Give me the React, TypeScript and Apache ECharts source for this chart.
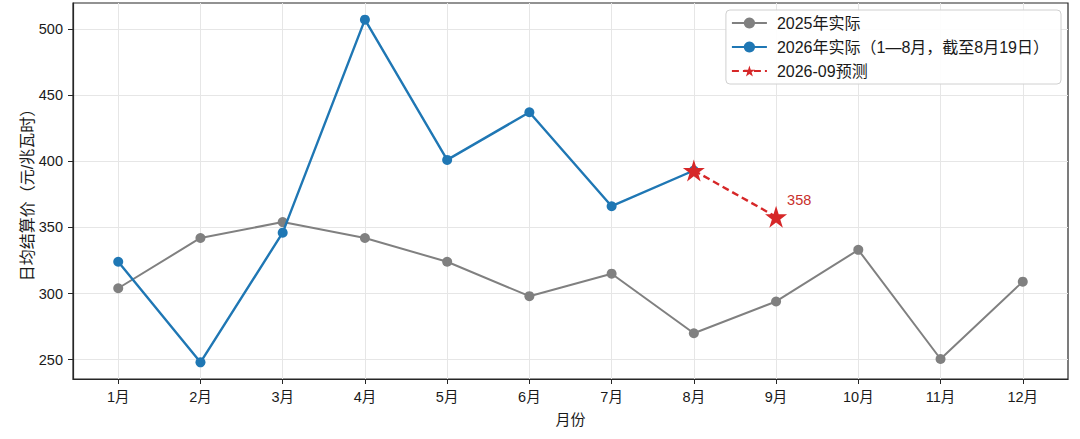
import React, { useEffect, useRef } from 'react';
import * as echarts from 'echarts';

const months = ['1月', '2月', '3月', '4月', '5月', '6月', '7月', '8月', '9月', '10月', '11月', '12月'];
const actual2025 = [304, 342, 354, 342, 324, 298, 315, 270, 294, 333, 250.5, 309];
const actual2026 = [324, 248, 346, 507, 401, 437, 366, 393];
const forecastMonths = ['8月', '9月'];
const forecastValues = [393, 358];
const forecastLabel = '358';
const yTicks = [250, 300, 350, 400, 450, 500];
const seriesNames = ['2025年实际', '2026年实际（1—8月，截至8月19日）', '2026-09预测'];

const FONT = '"Liberation Sans", "Noto Sans CJK SC", sans-serif';

function starPath(): string {
  const pts: string[] = [];
  for (let k = 0; k < 10; k++) {
    const r = k % 2 === 0 ? 1 : 0.381966;
    const a = -Math.PI / 2 + (k * Math.PI) / 5;
    pts.push(`${(r * Math.cos(a)).toFixed(4)} ${(r * Math.sin(a)).toFixed(4)}`);
  }
  return 'path://M' + pts.join(' L') + ' Z';
}

export default function App() {
  const ref = useRef<HTMLDivElement>(null);
  useEffect(() => {
    if (!ref.current) return;
    const chart = echarts.init(ref.current, null, { renderer: 'svg' });
    const star = starPath();
    const monthIdx = months.map((_, i) => i);
    chart.setOption({
      animation: false,
      backgroundColor: '#ffffff',
      textStyle: { fontFamily: FONT },
      grid: {
        left: 73,
        right: 12,
        top: 3,
        bottom: 60,
        show: true,
        borderColor: '#262626',
        borderWidth: 1.2,
        containLabel: false,
        outerBoundsMode: 'none',
      },
      legend: {
        orient: 'vertical',
        right: 19,
        top: 10,
        padding: [4, 12, 4, 5],
        itemGap: 6,
        itemWidth: 35,
        itemHeight: 14,
        backgroundColor: 'rgba(255,255,255,0.9)',
        borderColor: '#d0d0d0',
        borderWidth: 1,
        borderRadius: 4,
        textStyle: { fontFamily: FONT, fontSize: 16, color: '#1a1a1a', padding: [0, 0, 0, 5], lineHeight: 18 },
        data: seriesNames,
      },
      xAxis: {
        type: 'value',
        min: -0.55,
        max: 11.55,
        name: '月份',
        nameLocation: 'middle',
        nameGap: 33,
        nameMoveOverlap: false,
        nameTextStyle: { fontFamily: FONT, fontSize: 15, color: '#1a1a1a' },
        axisLine: { show: true, onZero: false, lineStyle: { color: '#262626', width: 1.2 } },
        axisTick: { show: true, length: 5, lineStyle: { color: '#262626' }, customValues: monthIdx },
        axisLabel: {
          customValues: monthIdx,
          formatter: (v: number) => months[Math.round(v)] ?? '',
          fontFamily: FONT,
          fontSize: 14.5,
          color: '#1a1a1a',
          margin: 11,
        },
        splitLine: { show: true, lineStyle: { color: '#e6e6e6', width: 1 } },
      },
      yAxis: {
        type: 'value',
        min: 235.4,
        max: 519.6,
        name: '日均结算价（元/兆瓦时）',
        nameLocation: 'middle',
        nameRotate: 90,
        nameGap: 38,
        nameMoveOverlap: false,
        nameTextStyle: { fontFamily: FONT, fontSize: 16, color: '#1a1a1a' },
        axisLine: { show: true, onZero: false, lineStyle: { color: '#262626', width: 1.2 } },
        axisTick: { show: true, length: 5, lineStyle: { color: '#262626' }, customValues: yTicks },
        axisLabel: {
          customValues: yTicks,
          fontFamily: FONT,
          fontSize: 14.5,
          color: '#1a1a1a',
          margin: 10,
        },
        splitLine: { show: true, lineStyle: { color: '#e6e6e6', width: 1 } },
      },
      series: [
        {
          name: seriesNames[0],
          type: 'line',
          data: actual2025.map((v, i) => [i, v]),
          symbol: 'circle',
          symbolSize: 10,
          color: '#808080',
          lineStyle: { color: '#808080', width: 2 },
          itemStyle: { color: '#808080' },
          z: 2,
        },
        {
          name: seriesNames[1],
          type: 'line',
          data: actual2026.map((v, i) => [i, v]),
          symbol: 'circle',
          symbolSize: 10,
          color: '#1f77b4',
          lineStyle: { color: '#1f77b4', width: 2.4 },
          itemStyle: { color: '#1f77b4' },
          z: 3,
        },
        {
          name: seriesNames[2],
          type: 'line',
          data: forecastValues.map((v, i) => {
            const pt: any = { value: [months.indexOf(forecastMonths[i]), v] };
            if (i === forecastValues.length - 1) {
              pt.label = {
                show: true,
                position: 'right',
                distance: 0,
                offset: [0, -17],
                formatter: () => forecastLabel,
                fontFamily: FONT,
                fontSize: 14.5,
                color: '#c8302c',
              };
            }
            return pt;
          }),
          symbol: star,
          symbolSize: 22,
          color: '#d62728',
          lineStyle: { color: '#d62728', width: 2.4, type: [7, 4] },
          itemStyle: { color: '#d62728' },
          z: 4,
        },
      ],
    });
    return () => chart.dispose();
  }, []);
  return <div ref={ref} style={{ position: 'fixed', left: 0, top: 0, width: 1080, height: 439 }} />;
}
